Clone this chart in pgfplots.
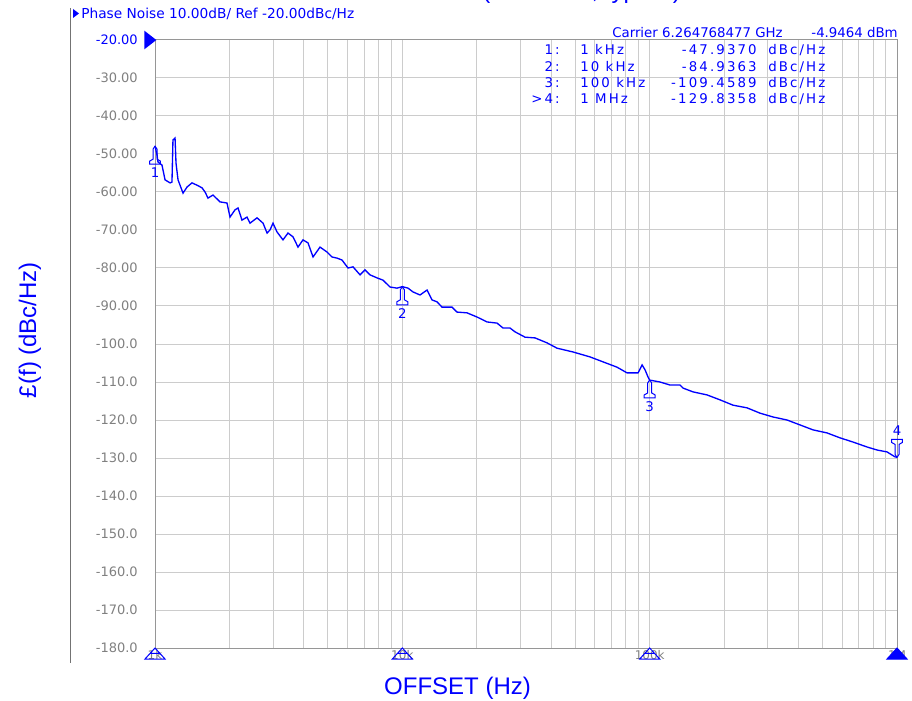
\documentclass[border=0pt]{standalone}
\usepackage{fontspec}
\setmainfont{DejaVu Sans}
\newfontfamily\arialfont{Liberation Sans}
\newfontfamily\tablefont[LetterSpace=16]{DejaVu Sans}
\usepackage{pgfplots}
\pgfplotsset{compat=1.18}

\definecolor{gridgray}{RGB}{204,204,204}
\definecolor{framegray}{RGB}{150,150,150}
\definecolor{labelgray}{RGB}{128,128,128}

% marker flag below the trace (tip at the point)
\pgfdeclareplotmark{mkup}{%
  \pgfpathmoveto{\pgfpoint{0pt}{0pt}}
  \pgfpathlineto{\pgfpoint{1.5pt}{-2.25pt}}
  \pgfpathlineto{\pgfpoint{1.5pt}{-9.75pt}}
  \pgfpathlineto{\pgfpoint{4.1pt}{-11.25pt}}
  \pgfpathlineto{\pgfpoint{4.1pt}{-13.5pt}}
  \pgfpathlineto{\pgfpoint{-4.1pt}{-13.5pt}}
  \pgfpathlineto{\pgfpoint{-4.1pt}{-11.25pt}}
  \pgfpathlineto{\pgfpoint{-1.5pt}{-9.75pt}}
  \pgfpathlineto{\pgfpoint{-1.5pt}{-2.25pt}}
  \pgfpathclose
  \pgfusepathqstroke}
% same, above the trace
\pgfdeclareplotmark{mkdown}{%
  \pgfpathmoveto{\pgfpoint{0pt}{0pt}}
  \pgfpathlineto{\pgfpoint{1.5pt}{2.25pt}}
  \pgfpathlineto{\pgfpoint{1.5pt}{9.75pt}}
  \pgfpathlineto{\pgfpoint{4.1pt}{11.25pt}}
  \pgfpathlineto{\pgfpoint{4.1pt}{13.5pt}}
  \pgfpathlineto{\pgfpoint{-4.1pt}{13.5pt}}
  \pgfpathlineto{\pgfpoint{-4.1pt}{11.25pt}}
  \pgfpathlineto{\pgfpoint{-1.5pt}{9.75pt}}
  \pgfpathlineto{\pgfpoint{-1.5pt}{2.25pt}}
  \pgfpathclose
  \pgfusepathqstroke}
% triangles under the x axis
\pgfdeclareplotmark{xmk}{%
  \pgfpathmoveto{\pgfpoint{0pt}{0pt}}
  \pgfpathlineto{\pgfpoint{7.5pt}{-8.25pt}}
  \pgfpathlineto{\pgfpoint{-7.5pt}{-8.25pt}}
  \pgfpathclose
  \pgfpathmoveto{\pgfpoint{-3.75pt}{-4.1pt}}
  \pgfpathlineto{\pgfpoint{3.75pt}{-4.1pt}}
  \pgfusepathqstroke}
\pgfdeclareplotmark{xmkfill}{%
  \pgfpathmoveto{\pgfpoint{0pt}{0pt}}
  \pgfpathlineto{\pgfpoint{7.5pt}{-8.25pt}}
  \pgfpathlineto{\pgfpoint{-7.5pt}{-8.25pt}}
  \pgfpathclose
  \pgfusepathqfillstroke}
% reference level arrow
\pgfdeclareplotmark{reftri}{%
  \pgfpathmoveto{\pgfpoint{1pt}{0pt}}
  \pgfpathlineto{\pgfpoint{-8pt}{7pt}}
  \pgfpathlineto{\pgfpoint{-8pt}{-7pt}}
  \pgfpathclose
  \pgfusepathqfill}

\begin{document}
\begin{tikzpicture}
\path[use as bounding box] (0,0) rectangle (684pt,525pt);

\begin{axis}[
  at={(116.25pt,39pt)}, anchor=south west,
  scale only axis, width=556.5pt, height=456pt,
  xmode=log, xmin=1000, xmax=1000000,
  ymin=-180, ymax=-20,
  xtick={1000,10000,100000,1000000},
  xticklabels={1k,10k,100k,1M},
  minor xtick={2000,3000,4000,5000,6000,7000,8000,9000,
    20000,30000,40000,50000,60000,70000,80000,90000,
    200000,300000,400000,500000,600000,700000,800000,900000},
  ytick={-180,-170,-160,-150,-140,-130,-120,-110,-100,-90,-80,-70,-60,-50,-40,-30,-20},
  yticklabels={-180.0,-170.0,-160.0,-150.0,-140.0,-130.0,-120.0,-110.0,-100.0,
    -90.00,-80.00,-70.00,-60.00,-50.00,-40.00,-30.00,\textcolor{blue}{-20.00}},
  grid=both,
  major grid style={gridgray, line width=0.75pt},
  minor grid style={gridgray, line width=0.75pt},
  major tick length=0pt, minor tick length=0pt,
  axis line style={framegray, line width=0.75pt},
  yticklabel style={anchor=east, inner sep=0pt, xshift=-12.75pt,
    text=labelgray, font=\fontsize{9.75}{10}\selectfont},
  xticklabel style={anchor=north, inner sep=0pt, yshift=-1.5pt,
    text=labelgray, font=\fontsize{9}{10}\selectfont},
  clip=false,
]
\addplot[blue, line width=1pt, mark=none] coordinates {
(1000,-47.9) (1019,-50.3) (1028,-52.1) (1067,-52.9) (1098,-56.8) (1150,-57.6)
(1171,-57.4) (1182,-46.3) (1205,-45.8) (1216,-52.4) (1239,-56.8) (1298,-60.3)
(1347,-58.7) (1411,-57.6) (1478,-58.2) (1549,-58.9) (1593,-60.0) (1638,-61.6)
(1716,-60.8) (1832,-62.6) (1955,-62.9) (2010,-66.6) (2106,-64.7) (2166,-64.2)
(2247,-67.4) (2355,-66.6) (2422,-68.2) (2585,-66.8) (2734,-68.2) (2838,-70.8)
(2917,-70.0) (3000,-68.2) (3113,-70.5) (3292,-72.6) (3449,-70.8) (3614,-71.8)
(3786,-74.5) (3966,-72.6) (4156,-73.4) (4354,-77.1) (4647,-74.5) (4960,-75.8)
(5196,-77.1) (5445,-77.4) (5703,-77.9) (6031,-80.0) (6318,-79.7) (6744,-81.8)
(7066,-80.5) (7401,-81.8) (7900,-82.6) (8353,-83.2) (8916,-85.0) (9517,-85.3)
(10000,-84.9) (10541,-85.3) (11044,-86.3) (11788,-87.1) (12585,-85.8) (13183,-88.4)
(13810,-88.9) (14467,-90.3) (15878,-90.3) (16634,-91.6) (18255,-91.8) (20042,-92.9)
(21995,-94.2) (24145,-94.5) (25527,-95.8) (27250,-95.8) (28547,-96.8) (31333,-98.2)
(34392,-98.4) (38458,-99.7) (42209,-101.1) (48988,-102.1) (57406,-103.4) (64774,-104.7)
(73790,-106.1) (80986,-107.6) (89743,-107.6) (93151,-105.5) (95787,-106.8) (98492,-108.7)
(100000,-109.5) (110100,-110.0) (120850,-110.8) (132660,-110.8) (136400,-111.6)
(149700,-112.6) (170600,-113.4) (192500,-114.7) (217300,-116.1) (247500,-116.8)
(279300,-118.2) (315100,-119.2) (359200,-120.0) (405400,-121.3) (457500,-122.6)
(521200,-123.4) (588200,-124.7) (663800,-125.8) (756500,-127.1) (830400,-127.9)
(911200,-128.4) (981600,-129.7) (1000000,-129.8)
};
% markers 1-3 (below the trace)
\addplot[only marks, mark=mkup, mark options={blue, line width=0.75pt},
  nodes near coords, point meta=explicit symbolic,
  every node near coord/.append style={anchor=center, yshift=-20pt, text=blue,
    font=\fontsize{10}{10}\selectfont}]
  coordinates {(1000,-47.94) [1] (10000,-84.94) [2] (100000,-109.46) [3]};
% marker 4 (above the trace)
\addplot[only marks, mark=mkdown, mark options={blue, line width=0.75pt},
  nodes near coords, point meta=explicit symbolic,
  every node near coord/.append style={anchor=center, yshift=20pt, text=blue,
    font=\fontsize{10}{10}\selectfont}]
  coordinates {(1000000,-129.84) [4]};
\end{axis}

% overlay: triangles on the axis edges
\begin{axis}[
  at={(116.25pt,39pt)}, anchor=south west,
  scale only axis, width=556.5pt, height=456pt,
  xmode=log, xmin=1000, xmax=1000000,
  ymin=-180, ymax=-20,
  hide axis, clip=false,
]
\addplot[only marks, mark=xmk, mark options={blue, line width=0.75pt}]
  coordinates {(1000,-180) (10000,-180) (100000,-180)};
\addplot[only marks, mark=xmkfill, mark options={blue, fill=blue, line width=0.75pt}]
  coordinates {(1000000,-180)};
\addplot[only marks, mark=reftri, mark options={blue, fill=blue}]
  coordinates {(1000,-20)};
\end{axis}

% instrument screen text, pixel coordinates (y downwards)
\begin{scope}[x=0.75pt, y=-0.75pt, yshift=525pt]
  \draw[color=black!55, line width=0.75pt] (70.5,8) -- (70.5,663);
  \fill[blue] (73,9) -- (79,13.5) -- (73,18) -- cycle;
  \node[anchor=base west, inner sep=0pt, text=blue, font=\fontsize{10.3}{11}\selectfont]
    at (81,18.5) {Phase Noise 10.00dB/ Ref -20.00dBc/Hz};
  \node[anchor=base west, inner sep=0pt, text=blue, font=\fontsize{10}{11}\selectfont]
    at (612,37.5) {Carrier 6.264768477 GHz};
  \node[anchor=base east, inner sep=0pt, text=blue, font=\fontsize{10}{11}\selectfont]
    at (898,37.5) {-4.9464 dBm};
  \begin{scope}[every node/.style={inner sep=0pt, text=blue,
      font=\tablefont\fontsize{10}{11}\selectfont}]
    \node[anchor=base east] at (560,55) {1:};
    \node[anchor=base east] at (560,72) {2:};
    \node[anchor=base east] at (560,88) {3:};
    \node[anchor=base east] at (560,104) {>4:};
    \node[anchor=base west] at (580,55) {1 kHz};
    \node[anchor=base west] at (580,72) {10 kHz};
    \node[anchor=base west] at (580,88) {100 kHz};
    \node[anchor=base west] at (580,104) {1 MHz};
    \node[anchor=base east] at (757,55) {-47.9370};
    \node[anchor=base east] at (757,72) {-84.9363};
    \node[anchor=base east] at (757,88) {-109.4589};
    \node[anchor=base east] at (757,104) {-129.8358};
    \node[anchor=base west] at (768,55) {dBc/Hz};
    \node[anchor=base west] at (768,72) {dBc/Hz};
    \node[anchor=base west] at (768,88) {dBc/Hz};
    \node[anchor=base west] at (768,104) {dBc/Hz};
  \end{scope}
  \node[rotate=90, anchor=center, inner sep=0pt, text=blue,
    font=\arialfont\fontsize{18}{20}\selectfont] at (30,330) {£(f) (dBc/Hz)};
  \node[anchor=base, inner sep=0pt, text=blue,
    font=\arialfont\fontsize{18}{20}\selectfont] at (457.5,694) {OFFSET (Hz)};
  \begin{scope}
    \clip (0,0) rectangle (912,700);
    \node[anchor=base west, inner sep=0pt, text=blue,
      font=\arialfont\fontsize{18}{20}\selectfont] at (482,-1.5) {(6.26 GHz, typical)};
  \end{scope}
\end{scope}
\end{tikzpicture}
\end{document}
